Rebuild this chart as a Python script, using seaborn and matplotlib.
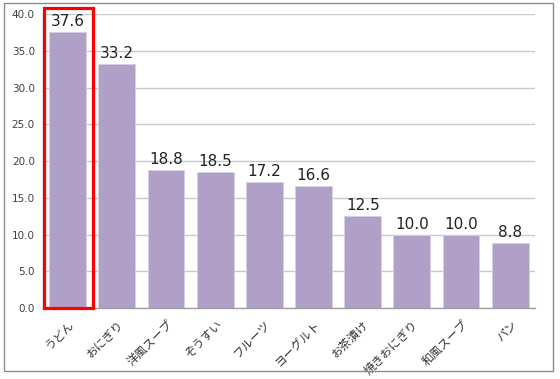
import pandas as pd
import matplotlib
matplotlib.use("Agg")
import matplotlib.pyplot as plt
import seaborn as sns
from matplotlib.patches import Rectangle

# Data
foods = ["うどん", "おにぎり", "洋風スープ", "ぞうすい", "フルーツ", "ヨーグルト",
         "お茶漬け", "焼きおにぎり", "和風スープ", "パン"]
values = [37.6, 33.2, 18.8, 18.5, 17.2, 16.6, 12.5, 10.0, 10.0, 8.8]
yticks = [0, 5, 10, 15, 20, 25, 30, 35, 40]

df = pd.DataFrame({"food": foods, "value": values})

sns.set_style("white")
plt.rcParams["font.family"] = ["Noto Sans CJK JP", "DejaVu Sans"]

fig = plt.figure(figsize=(5.6, 3.79), dpi=100)
ax = fig.add_axes([0.077, 0.187, 0.878, 0.776])

sns.barplot(x="food", y="value", data=df, color="#B0A0C8", saturation=1,
            width=0.75, ax=ax, zorder=2, edgecolor="#D8D0E4", linewidth=0.6)

ax.set_ylim(0, 40)
ax.set_xlim(-0.5, len(foods) - 0.5)
ax.set_yticks(yticks)
ax.set_yticklabels([f"{v:.1f}" for v in yticks], fontsize=7.5, color="#404040",
                   family="DejaVu Sans")
ax.yaxis.grid(True, color="#C8C8C8", linewidth=1, zorder=0)
ax.tick_params(axis="y", length=0, pad=6)

# category labels, tick marks between categories
ax.set_xticks(range(len(foods)))
ax.set_xticklabels(foods, rotation=45, ha="right", rotation_mode="anchor",
                   fontsize=8.5, color="#333333")
ax.tick_params(axis="x", which="major", length=0, pad=7)
ax.set_xticks([i - 0.5 for i in range(len(foods) + 1)], minor=True)
ax.tick_params(axis="x", which="minor", length=4, color="#A0A0A0", width=1)
ax.set_xlabel("")
ax.set_ylabel("")

for s in ["top", "right"]:
    ax.spines[s].set_visible(False)
for s in ["left", "bottom"]:
    ax.spines[s].set_color("#A0A0A0")
    ax.spines[s].set_linewidth(1)

# value labels
for i, v in enumerate(values):
    ax.text(i, v + 0.4, f"{v:.1f}", ha="center", va="bottom", fontsize=11,
            color="#222222", zorder=4, family="DejaVu Sans")

# red highlight around the first bar
ax.add_patch(Rectangle((-0.48, 0), 1.0, 40.8, fill=False, edgecolor="#FF0000",
                       linewidth=2.3, clip_on=False, zorder=5))

# outer border of the figure
fig.add_artist(Rectangle((0.008, 0.02), 0.979, 0.972, transform=fig.transFigure,
                         fill=False, edgecolor="#8C8C8C", linewidth=1))

fig.savefig("out.png", dpi=100)
